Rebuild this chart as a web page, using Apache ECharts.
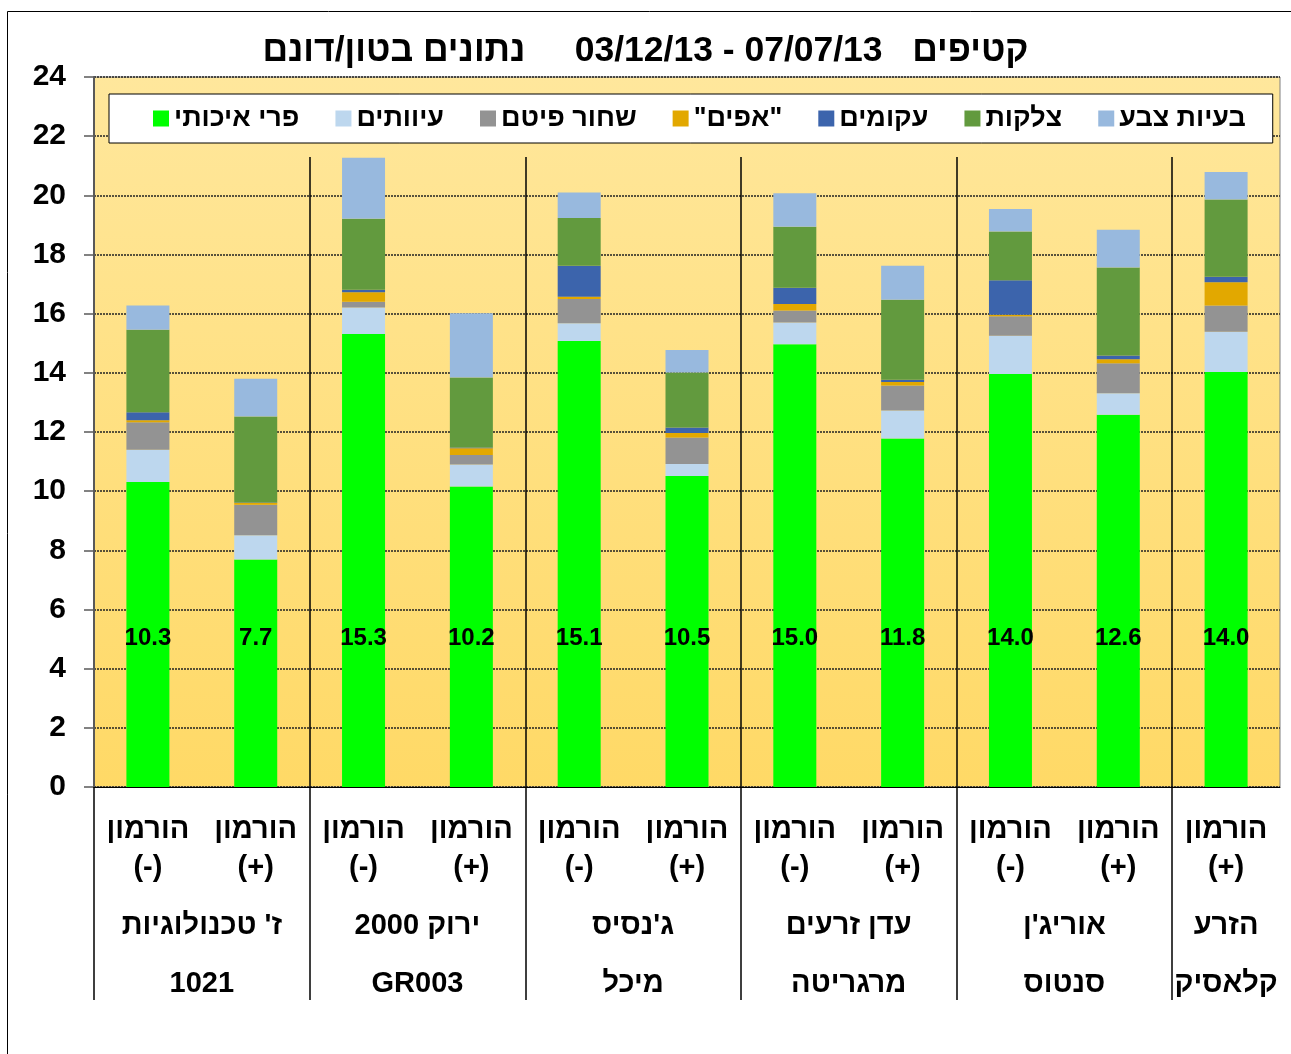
<!DOCTYPE html>
<html>
<head>
<meta charset="utf-8">
<title>קטיפים</title>
<script src="https://cdn.jsdelivr.net/npm/echarts@6/dist/echarts.min.js"></script>
<style>
    html, body { margin: 0; padding: 0; background: #fff; }
    #main { width: 1291px; height: 1054px; }
</style>
</head>
<body>
<div id="main"></div>
<script>
/*数据*/
var hormone = ['(-)', '(+)', '(-)', '(+)', '(-)', '(+)', '(-)', '(+)', '(-)', '(+)', '(+)'];
var groupNames = ["ז' טכנולוגיות\n1021", 'ירוק 2000\nGR003', "ג'נסיס\nמיכל", 'עדן זרעים\nמרגריטה', "אוריג'ן\nסנטוס", 'הזרע\nקלאסיק'];
var groupSizes = [2, 2, 2, 2, 2, 1];
var yTicks = [0, 24, 2];

var quality = [10.31, 7.69, 15.31, 10.16, 15.08, 10.51, 14.97, 11.78, 13.96, 12.58, 14.03];
var deform = [1.09, 0.82, 0.90, 0.74, 0.60, 0.41, 0.73, 0.95, 1.29, 0.73, 1.36];
var blackTip = [0.93, 1.03, 0.19, 0.32, 0.82, 0.89, 0.41, 0.84, 0.66, 1.01, 0.89];
var noses = [0.07, 0.06, 0.32, 0.23, 0.07, 0.16, 0.22, 0.12, 0.05, 0.14, 0.78];
var curved = [0.27, 0.02, 0.09, 0.03, 1.05, 0.18, 0.55, 0.08, 1.17, 0.13, 0.19];
var scars = [2.79, 2.90, 2.40, 2.36, 1.61, 1.86, 2.06, 2.70, 1.65, 2.97, 2.61];
var colorIssues = [0.82, 1.28, 2.06, 2.17, 0.87, 0.76, 1.13, 1.15, 0.76, 1.28, 0.93];

var seriesNames = ['פרי איכותי', 'עיוותים', 'שחור פיטם', '"אפים"', 'עקומים', 'צלקות', 'בעיות צבע'];
var seriesData = [quality, deform, blackTip, noses, curved, scars, colorIssues];
var seriesColors = ['#00ff00', '#bdd7ee', '#939393', '#e2a800', '#3c64ac', '#629a3e', '#98b9de'];

var font = 'Liberation Sans, Arial, DejaVu Sans, sans-serif';

var barCharts = function () {
    var box = document.getElementById('main');
    var myChart = echarts.init(box);

    /*x轴 类目*/
    var cats = hormone.map(function (h) { return 'הורמון\n' + h; });

    /*分组中心位置 和 分隔线位置*/
    var centers = [], bounds = [0], pos = 0;
    groupSizes.forEach(function (s) {
        centers.push(pos + s / 2);
        pos += s;
        if (pos < hormone.length) bounds.push(pos);
    });

    var series = [];
    seriesNames.forEach(function (name, i) {
        var s = {
            name: name,
            type: 'bar',
            stack: 'total',
            barWidth: 43,
            xAxisIndex: 0,
            yAxisIndex: 0,
            itemStyle: { color: seriesColors[i] },
            data: seriesData[i]
        };
        if (i === 0) {
            s.label = {
                show: true,
                position: 'insideBottom',
                distance: 137,
                color: '#000',
                fontFamily: font,
                fontWeight: 'bold',
                fontSize: 24,
                formatter: function (p) { return p.value.toFixed(1); }
            };
        }
        series.push(s);
    });

    var options = {
        animation: false,
        backgroundColor: '#fff',
        title: {
            text: 'קטיפים   07/07/13 - 03/12/13     נתונים בטון/דונם',
            left: 'center',
            top: 28,
            textStyle: { fontFamily: font, fontWeight: 'bold', fontSize: 35.5, color: '#000' }
        },
        legend: {
            data: seriesNames.slice(),
            left: 109,
            top: 94,
            padding: [11, 27, 11, 44],
            itemGap: 36,
            itemWidth: 16,
            itemHeight: 16,
            icon: 'rect',
            backgroundColor: '#fff',
            borderColor: '#000',
            borderWidth: 1,
            textStyle: { fontFamily: font, fontWeight: 'bold', fontSize: 27, color: '#000' }
        },
        grid: [
            {
                left: 94, right: 11, top: 77, bottom: 267,
                outerBoundsMode: 'none',
                show: true,
                borderColor: '#808080',
                borderWidth: 1,
                backgroundColor: {
                    type: 'linear', x: 0, y: 0, x2: 0, y2: 1,
                    colorStops: [{ offset: 0, color: '#ffe79c' }, { offset: 1, color: '#ffd966' }]
                }
            },
            { left: 94, right: 11, top: 157, bottom: 267, outerBoundsMode: 'none' }
        ],
        xAxis: [
            {
                type: 'category',
                gridIndex: 0,
                position: 'bottom',
                data: cats,
                axisLine: { lineStyle: { color: '#000', width: 1 } },
                axisTick: { length: 96, lineStyle: { color: '#000', width: 1 } },
                axisLabel: {
                    interval: 0, margin: 24, lineHeight: 38,
                    color: '#000', fontFamily: font, fontWeight: 'bold', fontSize: 29
                }
            },
            {
                /*分组分隔线*/
                type: 'value',
                gridIndex: 1,
                position: 'bottom',
                min: 0,
                max: hormone.length,
                interval: 2,
                axisLine: { show: false },
                axisTick: { length: 213, customValues: bounds, lineStyle: { color: '#000', width: 1.5 } },
                axisLabel: { show: false },
                splitLine: { show: true, showMinLine: false, showMaxLine: true, lineStyle: { color: '#000', width: 1.5, type: 'solid' } }
            },
            {
                /*分组名称*/
                type: 'value',
                gridIndex: 0,
                position: 'bottom',
                offset: 0,
                min: 0,
                max: hormone.length,
                axisLine: { show: false },
                axisTick: { show: false },
                splitLine: { show: false },
                axisLabel: {
                    customValues: centers,
                    margin: 110, lineHeight: 58,
                    color: '#000', fontFamily: font, fontWeight: 'bold', fontSize: 29,
                    formatter: function (v) {
                        for (var i = 0; i < centers.length; i++) {
                            if (Math.abs(centers[i] - v) < 0.01) return groupNames[i];
                        }
                        return '';
                    }
                }
            }
        ],
        yAxis: [
            {
                type: 'value',
                gridIndex: 0,
                min: yTicks[0],
                max: yTicks[1],
                interval: yTicks[2],
                axisLine: { show: true, lineStyle: { color: '#595959', width: 2 } },
                axisTick: { show: true, length: 10, lineStyle: { color: '#595959', width: 1.5 } },
                axisLabel: { margin: 28, color: '#000', fontFamily: font, fontWeight: 'bold', fontSize: 30 },
                splitLine: { show: true, lineStyle: { color: '#222', width: 1.5, type: [2, 1] } }
            },
            { type: 'value', gridIndex: 1, min: 0, max: 1, show: false }
        ],
        graphic: [
            {
                type: 'rect',
                z: -1,
                shape: { x: 7.5, y: 11.5, width: 1400, height: 1200 },
                style: { fill: 'none', stroke: '#000', lineWidth: 1 }
            }
        ],
        series: series
    };
    myChart.setOption(options);
};

barCharts();
</script>
</body>
</html>
